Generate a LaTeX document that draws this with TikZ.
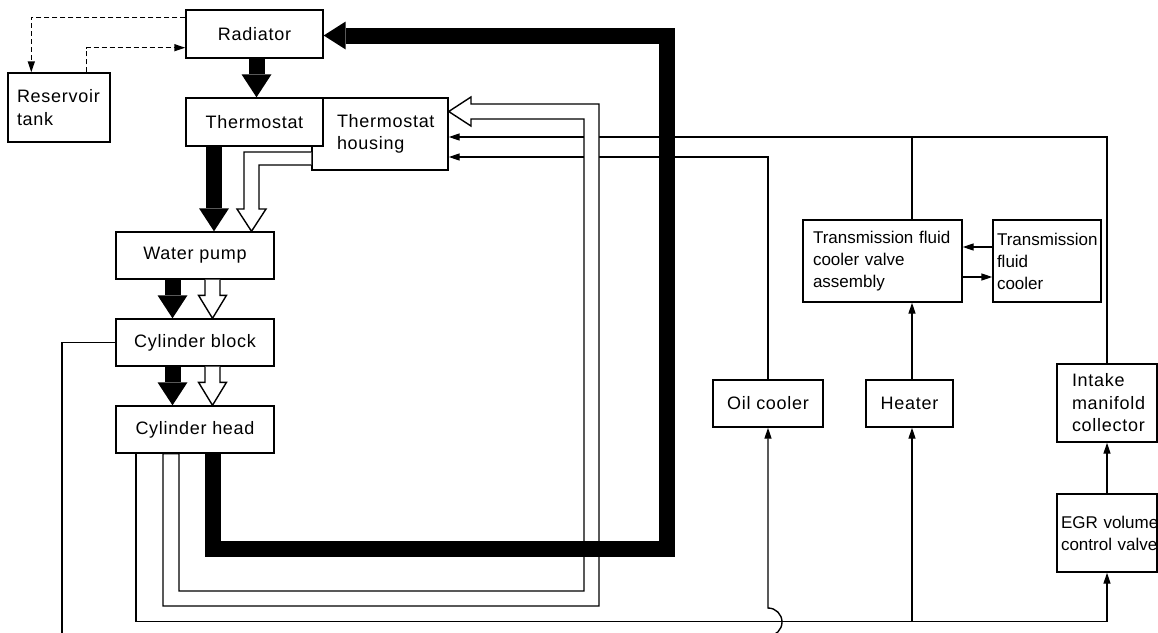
\documentclass[tikz,border=0pt]{standalone}
\usepackage{fontspec}
\setmainfont{Liberation Sans}
\newfontfamily\lfont[LetterSpace=4]{Liberation Sans}
\usetikzlibrary{arrows.meta,calc}
\begin{document}
\begin{tikzpicture}[x=1pt,y=-1pt,
  box/.style={draw, line width=1.4pt, fill=white, inner sep=0pt, font=\lfont\fontsize{18}{22.5}\selectfont},
  rbox/.style={draw, line width=1.4pt, fill=white, inner sep=0pt, font=\fontsize{17}{22}\selectfont},
  thin/.style={line width=1.4pt},
  tip/.style={-{Triangle[length=11pt,width=7pt]}},
  dsh/.style={line width=1.4pt, dash pattern=on 5pt off 3pt},
  blk/.style={line width=16pt, -{Triangle[length=23pt,width=30pt,line width=0pt]}},
  loop/.style={line width=16pt, line join=miter, -{Triangle[length=22pt,width=28pt,line width=0pt]}},
  opn/.style={line width=1.4pt, fill=white, line join=miter},
]
\useasboundingbox (0,0) rectangle (1158,632);

% boxes
\node[box, minimum width=137pt, minimum height=48pt] (rad) at (254.5,34) {Radiator};
\node[box, minimum width=102pt, minimum height=69pt, inner xsep=9pt, text width=84pt, align=left] (res) at (59,107.5) {\mbox{Reservoir}\\tank};
\node[box, minimum width=136pt, minimum height=72pt, inner xsep=25pt, text width=86pt, align=left] (hous) at (380,134) {\mbox{Thermostat}\\housing};
\node[box, minimum width=137pt, minimum height=48pt] (therm) at (254.5,122) {Thermostat};
\node[box, minimum width=158pt, minimum height=47pt] (pump) at (195,255.5) {Water pump};
\node[box, minimum width=158pt, minimum height=47pt] (block) at (195,342.5) {Cylinder block};
\node[box, minimum width=158pt, minimum height=47pt] (head) at (195,429.5) {Cylinder head};
\node[rbox, minimum width=159pt, minimum height=82pt, inner xsep=10pt, text width=139pt, align=left] (valve) at (882.5,261) {\mbox{Transmission fluid}\\cooler valve\\assembly};
\node[rbox, minimum width=108pt, minimum height=82pt, inner xsep=4pt, text width=100pt, align=left] (tfc) at (1047,261) {\mbox{Transmission}\\fluid\\cooler};
\node[box, minimum width=110pt, minimum height=47pt] (oil) at (768,403.5) {Oil cooler};
\node[box, minimum width=87pt, minimum height=47pt] (heat) at (909.5,403.5) {Heater};
\node[box, minimum width=100pt, minimum height=78pt, inner xsep=15pt, text width=70pt, align=left] (intake) at (1107,403) {Intake\\manifold\\collector};
\node[rbox, minimum width=100pt, minimum height=78pt, inner xsep=4pt, text width=92pt, align=left] (egr) at (1107,533) {\mbox{EGR volume}\\\mbox{control valve}};

% junction coordinates
\coordinate (j1) at (912,137);
\coordinate (j2) at (912,621);
\coordinate (hop) at (768,636);

% dashed reservoir lines
\draw[dsh, tip] ([yshift=-8pt]rad.north west) -| ([xshift=24pt]res.north west);
\draw[dsh, tip] ([xshift=79pt]res.north west) |- ([yshift=11pt]rad.south west);

% thin return lines into housing
\draw[thin, tip] (intake.north) |- ([yshift=-3pt]hous.east);
\draw[thin] ([xshift=29.5pt]valve.north) -- (j1);
\draw[thin, tip] (oil.north) |- ([yshift=-23pt]hous.east);

% right side connections
\draw[thin, tip] ([xshift=2.5pt]heat.north) -- ([xshift=29.5pt]valve.south);
\draw[thin, tip] ([yshift=14pt]tfc.west) -- ([yshift=14pt]valve.east);
\draw[thin, tip] ([yshift=-16pt]valve.east) -- ([yshift=-16pt]tfc.west);
\draw[thin, tip] (egr.north) -- (intake.south);

% bottom supply line
\draw[thin, tip] ([xshift=-59pt]head.south) -- ++(0,168) -| (egr.south);
\draw[thin, tip] (j2) -- ([xshift=2.5pt]heat.south);
\draw[thin, tip] (hop) arc[start angle=-90, end angle=90, radius=14pt] -- (oil.south);
\draw[thin] (block.west) -| (62,640);

% open arrow: cylinder head -> thermostat housing
\draw[opn] ([xshift=-32pt]head.south) -- (163,606) -- (599,606) -- (599,104) -- (471,104) -- (471,97)
  -- ([yshift=22.5pt]hous.east) -- (471,126) -- (471,119) -- (584,119) -- (584,591) -- (179,591)
  -- ([xshift=-16pt]head.south) -- cycle;

% open arrow: housing -> water pump
\draw[opn] ([yshift=-18pt]hous.west) -- (244,152) -- (244,209) -- (237,209) -- ([xshift=56.5pt]pump.north)
  -- (266,209) -- (259,209) -- (259,165) -- ([yshift=-31pt]hous.west);

% open arrows pump -> block, block -> head
\draw[opn] let \p1=([xshift=17.5pt]pump.south), \p2=([xshift=17.5pt]block.north) in
  (\x1-7.5pt,\y1) -- (\x1-7.5pt,\y2+23pt) -- (\x1-14pt,\y2+23pt) -- (\x2,\y2)
  -- (\x1+14pt,\y2+23pt) -- (\x1+7.5pt,\y2+23pt) -- (\x1+7.5pt,\y1);
\draw[opn] let \p1=([xshift=17.5pt]block.south), \p2=([xshift=17.5pt]head.north) in
  (\x1-7.5pt,\y1) -- (\x1-7.5pt,\y2+23pt) -- (\x1-14pt,\y2+23pt) -- (\x2,\y2)
  -- (\x1+14pt,\y2+23pt) -- (\x1+7.5pt,\y2+23pt) -- (\x1+7.5pt,\y1);

% solid block arrows
\draw[blk] ([xshift=2pt]rad.south) -- ([xshift=2pt]therm.north);
\draw[blk] ([xshift=-40.5pt]therm.south) -- ([xshift=19pt]pump.north);
\draw[blk] ([xshift=-22.5pt]pump.south) -- ([xshift=-22.5pt]block.north);
\draw[blk] ([xshift=-22.5pt]block.south) -- ([xshift=-22.5pt]head.north);

% main hot loop: cylinder head -> radiator
\draw[loop] ([xshift=18pt]head.south) |- (666.5,549) |- ([yshift=-1.5pt]rad.east);
\end{tikzpicture}
\end{document}
